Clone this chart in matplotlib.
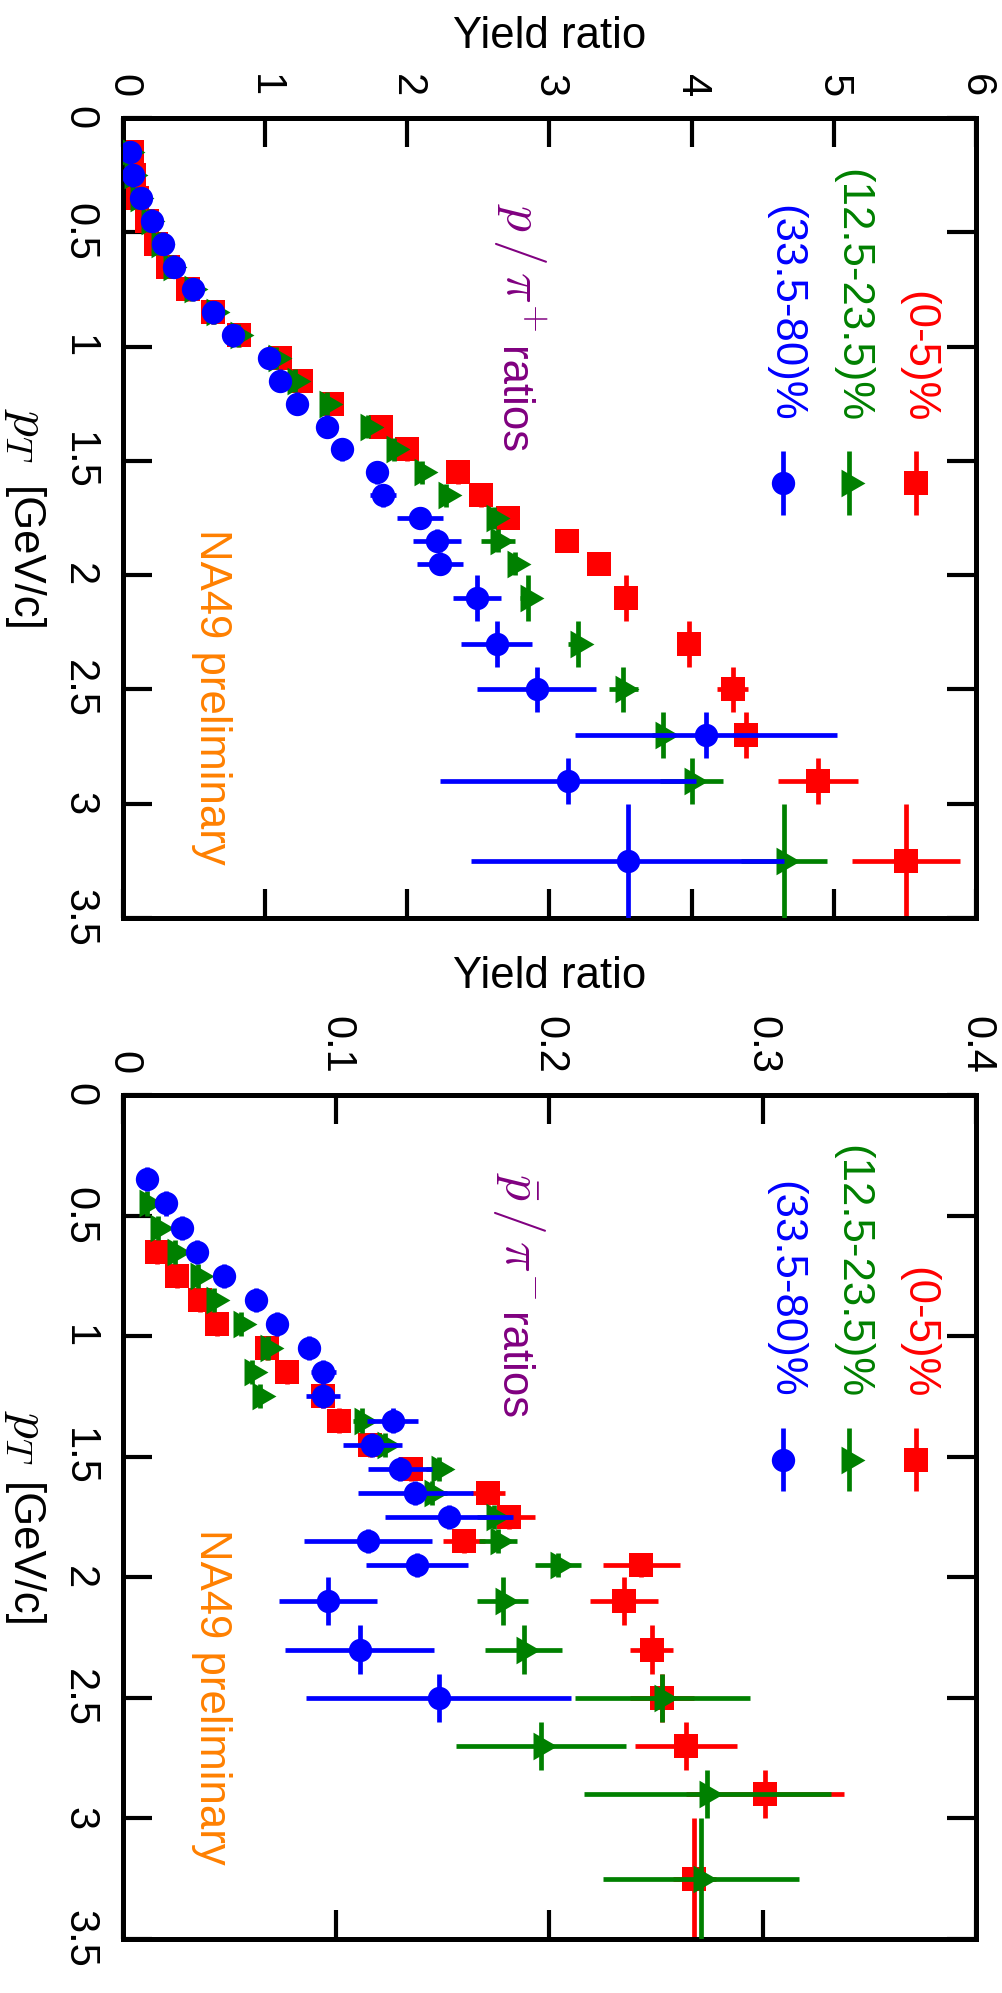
import numpy as np
import matplotlib
matplotlib.use('Agg')
import matplotlib.pyplot as plt
from matplotlib.ticker import MultipleLocator, FuncFormatter

plt.rcParams['font.family'] = ['Liberation Sans', 'DejaVu Sans']
plt.rcParams['mathtext.fontset'] = 'cm'

# ---- p / pi+ ratios (upper panel) ----
pt_pos = [0.15, 0.25, 0.35, 0.45, 0.55, 0.65, 0.75, 0.85, 0.95, 1.05, 1.15, 1.25, 1.35,
          1.45, 1.55, 1.65, 1.75, 1.85, 1.95, 2.1, 2.3, 2.5, 2.7, 2.9, 3.25]
pt_pos_err = [0.05, 0.05, 0.05, 0.05, 0.05, 0.05, 0.05, 0.05, 0.05, 0.05, 0.05, 0.05, 0.05,
              0.05, 0.05, 0.05, 0.05, 0.05, 0.05, 0.1, 0.1, 0.1, 0.1, 0.1, 0.25]

pos_c0 = [0.061, 0.077, 0.096, 0.166, 0.232, 0.314, 0.455, 0.633, 0.815, 1.104, 1.251, 1.469, 1.816,
          2.00, 2.36, 2.52, 2.71, 3.12, 3.35, 3.54, 3.98, 4.29, 4.38, 4.89, 5.51]
pos_c0_err = [0.01, 0.01, 0.01, 0.01, 0.01, 0.01, 0.01, 0.01, 0.02, 0.02, 0.02, 0.02, 0.03,
              0.03, 0.03, 0.03, 0.03, 0.03, 0.04, 0.05, 0.05, 0.11, 0.09, 0.28, 0.38]
pos_c1 = [0.040, 0.063, 0.105, 0.185, 0.250, 0.340, 0.485, 0.638, 0.808, 1.078, 1.207, 1.434, 1.727,
          1.91, 2.10, 2.27, 2.61, 2.64, 2.76, 2.85, 3.20, 3.52, 3.80, 4.00, 4.65]
pos_c1_err = [0.01, 0.01, 0.01, 0.01, 0.01, 0.01, 0.01, 0.01, 0.02, 0.02, 0.02, 0.02, 0.03,
              0.03, 0.04, 0.04, 0.05, 0.12, 0.05, 0.06, 0.07, 0.10, 0.08, 0.22, 0.30]
pos_c2 = [0.049, 0.072, 0.124, 0.206, 0.284, 0.359, 0.494, 0.630, 0.775, 1.028, 1.104, 1.221, 1.436,
          1.54, 1.79, 1.83, 2.09, 2.21, 2.23, 2.49, 2.63, 2.91, 4.10, 3.13, 3.55]
pos_c2_err = [0.01, 0.01, 0.01, 0.01, 0.01, 0.01, 0.01, 0.01, 0.02, 0.02, 0.02, 0.02, 0.03,
              0.03, 0.04, 0.09, 0.16, 0.17, 0.16, 0.17, 0.25, 0.42, 0.92, 0.90, 1.10]

# ---- pbar / pi- ratios (lower panel) ----
pt_neg_c0 = [0.65, 0.75, 0.85, 0.95, 1.05, 1.15, 1.25, 1.35, 1.45, 1.55, 1.65, 1.75, 1.85, 1.95,
             2.1, 2.3, 2.5, 2.7, 2.9, 3.25]
pt_neg_c0_err = [0.05, 0.05, 0.05, 0.05, 0.05, 0.05, 0.05, 0.05, 0.05, 0.05, 0.05, 0.05, 0.05, 0.05,
                 0.1, 0.1, 0.1, 0.1, 0.1, 0.25]
neg_c0 = [0.0158, 0.0252, 0.0361, 0.0439, 0.0674, 0.0768, 0.0937, 0.1013, 0.116, 0.135, 0.171,
          0.181, 0.160, 0.243, 0.235, 0.248, 0.253, 0.264, 0.301, 0.268]
neg_c0_err = [0.001, 0.001, 0.001, 0.002, 0.002, 0.002, 0.003, 0.003, 0.004, 0.005, 0.008,
              0.012, 0.010, 0.018, 0.016, 0.010, 0.015, 0.024, 0.037, 0.010]

pt_neg_c1 = [0.45, 0.55, 0.65, 0.75, 0.85, 0.95, 1.05, 1.15, 1.25, 1.35, 1.45, 1.55, 1.65, 1.75,
             1.85, 1.95, 2.1, 2.3, 2.5, 2.7, 2.9, 3.25]
pt_neg_c1_err = [0.05, 0.05, 0.05, 0.05, 0.05, 0.05, 0.05, 0.05, 0.05, 0.05, 0.05, 0.05, 0.05, 0.05,
                 0.05, 0.05, 0.1, 0.1, 0.1, 0.1, 0.1, 0.25]
neg_c1 = [0.0111, 0.0166, 0.0244, 0.0353, 0.0428, 0.0553, 0.0682, 0.0606, 0.0643, 0.112, 0.123,
          0.148, 0.145, 0.174, 0.176, 0.204, 0.178, 0.188, 0.253, 0.196, 0.274, 0.271]
neg_c1_err = [0.001, 0.001, 0.001, 0.001, 0.002, 0.002, 0.002, 0.003, 0.003, 0.004, 0.005,
              0.006, 0.007, 0.008, 0.009, 0.011, 0.012, 0.018, 0.041, 0.040, 0.058, 0.046]

pt_neg_c2 = [0.35, 0.45, 0.55, 0.65, 0.75, 0.85, 0.95, 1.05, 1.15, 1.25, 1.35, 1.45, 1.55, 1.65,
             1.75, 1.85, 1.95, 2.1, 2.3, 2.5]
pt_neg_c2_err = [0.05, 0.05, 0.05, 0.05, 0.05, 0.05, 0.05, 0.05, 0.05, 0.05, 0.05, 0.05, 0.05, 0.05,
                 0.05, 0.05, 0.05, 0.1, 0.1, 0.1]
neg_c2 = [0.0114, 0.020, 0.0275, 0.0349, 0.0474, 0.0622, 0.0724, 0.0874, 0.094, 0.094, 0.1265,
          0.117, 0.130, 0.137, 0.153, 0.115, 0.138, 0.096, 0.111, 0.148]
neg_c2_err = [0.001, 0.001, 0.002, 0.002, 0.003, 0.003, 0.004, 0.005, 0.006, 0.008, 0.012,
              0.014, 0.015, 0.027, 0.030, 0.030, 0.024, 0.023, 0.035, 0.062]

cent_labels = ['(0-5)%', '(12.5-23.5)%', '(33.5-80)%']
cent_colors = ['#ff0000', '#008000', '#0000ff']

FS = 31.5
FS_MATH = 37
# right pointing triangle, centred on its centroid
tri = [(-1.0, -1.732), (2.0, 0.0), (-1.0, 1.732), (-1.0, -1.732)]
markers = [('s', 17.3), (tri, 23.0), ('o', 16.8)]


def draw_series(ax, x, xerr, pt, pterr, k):
    m, ms = markers[k]
    ax.errorbar(x, pt, xerr=xerr, yerr=pterr, fmt='none', ecolor=cent_colors[k],
                elinewidth=3.4, capsize=0, zorder=2 + k)
    ax.plot(x, pt, linestyle='none', marker=m, ms=ms, mew=0, color=cent_colors[k], zorder=2.5 + k)


def style_panel(ax, xmax, xstep, xlabel_y, ptlabel_y, unit_y):
    ax.set_xlim(0, xmax)
    ax.set_ylim(3.5, 0)
    ax.xaxis.set_major_locator(MultipleLocator(xstep))
    ax.yaxis.set_major_locator(MultipleLocator(0.5))
    fmt = FuncFormatter(lambda v, p: '%g' % round(v, 3))
    ax.xaxis.set_major_formatter(fmt)
    ax.yaxis.set_major_formatter(fmt)
    ax.xaxis.tick_top()
    ax.tick_params(direction='in', top=True, bottom=True, left=True, right=True,
                   labeltop=True, labelbottom=False, length=21, width=3, labelsize=30)
    ax.tick_params(axis='x', pad=15, labelrotation=-90)
    ax.tick_params(axis='y', pad=17, labelrotation=-90)
    for lab in ax.get_yticklabels():
        lab.set_va('center')
    for s in ax.spines.values():
        s.set_linewidth(3.6)
    ax.xaxis.set_label_position('top')
    ax.set_xlabel('Yield ratio', fontsize=FS, va='baseline')
    ax.xaxis.set_label_coords(0.5, xlabel_y)
    # pT axis title: math symbol and unit set at different sizes
    ax.text(-0.142, ptlabel_y, r'$p_T$', fontsize=FS_MATH, rotation=-90,
            ha='left', va='top', transform=ax.transAxes)
    ax.text(-0.142, unit_y, '[GeV/c]', fontsize=FS, rotation=-90,
            ha='left', va='top', transform=ax.transAxes)


def draw_legend(ax, text_x, text_end, mark_x, mark_pt, bar):
    for k in range(3):
        ax.text(text_x[k], text_end, cent_labels[k], color=cent_colors[k], fontsize=FS,
                rotation=-90, ha='center', va='bottom')
        m, ms = markers[k]
        ax.errorbar([mark_x[k]], [mark_pt], yerr=[bar], fmt='none', ecolor=cent_colors[k],
                    elinewidth=3.4, capsize=0)
        ax.plot([mark_x[k]], [mark_pt], linestyle='none', marker=m, ms=ms, mew=0,
                color=cent_colors[k])


def ratio_title(ax, x, sym, pt_sym, pt_word):
    ax.text(x, pt_sym, sym, color='#800080', fontsize=FS_MATH,
            rotation=-90, ha='left', va='top')
    ax.text(x, pt_word, 'ratios', color='#800080', fontsize=FS,
            rotation=-90, ha='left', va='top')


fig = plt.figure(figsize=(10.03, 19.93), dpi=100)
ax1 = fig.add_axes([0.1226, 0.5394, 0.8504, 0.4014])
ax2 = fig.add_axes([0.1226, 0.0271, 0.8504, 0.4235])

# upper panel
draw_series(ax1, pos_c0, pos_c0_err, pt_pos, pt_pos_err, 0)
draw_series(ax1, pos_c1, pos_c1_err, pt_pos, pt_pos_err, 1)
draw_series(ax1, pos_c2, pos_c2_err, pt_pos, pt_pos_err, 2)
style_panel(ax1, 6, 1, 1.0875, 0.6375, 0.539)
draw_legend(ax1, [5.59, 5.13, 4.655], 1.33, [5.575, 5.105, 4.64], 1.597, 0.138)
ratio_title(ax1, 2.59, r'$p\,/\,\pi^{+}$', 0.372, 1.002)
ax1.text(0.62, 1.80, 'NA49 preliminary', color='#ff8000', fontsize=FS,
         rotation=-90, ha='center', va='top')

# lower panel
draw_series(ax2, neg_c0, neg_c0_err, pt_neg_c0, pt_neg_c0_err, 0)
draw_series(ax2, neg_c1, neg_c1_err, pt_neg_c1, pt_neg_c1_err, 1)
draw_series(ax2, neg_c2, neg_c2_err, pt_neg_c2, pt_neg_c2_err, 2)
style_panel(ax2, 0.4, 0.1, 1.127, 0.627, 0.54)
draw_legend(ax2, [0.3728, 0.3419, 0.3104], 1.257, [0.3719, 0.3404, 0.3095], 1.512, 0.131)
ratio_title(ax2, 0.1726, r'$\bar{p}\,/\,\pi^{-}$', 0.32, 0.905)
ax2.text(0.0415, 1.80, 'NA49 preliminary', color='#ff8000', fontsize=FS,
         rotation=-90, ha='center', va='top')

fig.savefig('out.png', dpi=100)
